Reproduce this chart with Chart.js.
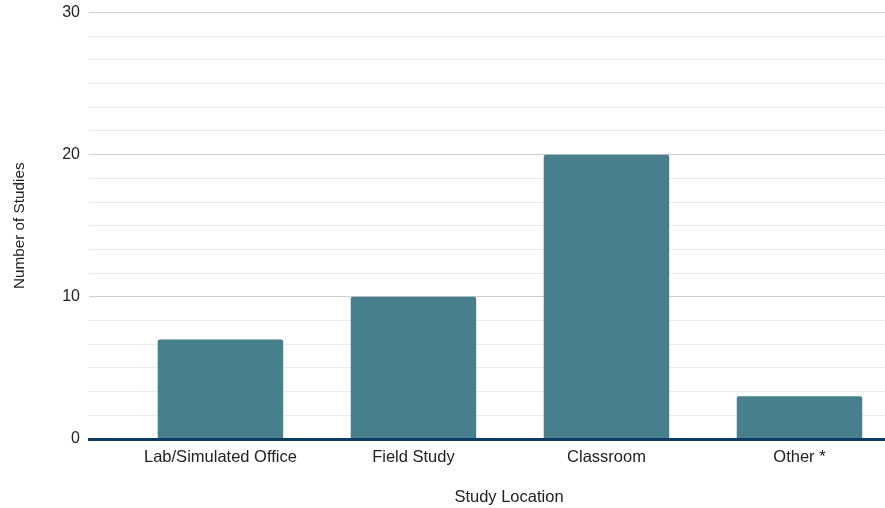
<!DOCTYPE html>
<html>
<head>
<meta charset="utf-8">
<title>Study Location</title>
<script src="https://cdn.jsdelivr.net/npm/chart.js@4.4.1/dist/chart.umd.min.js"></script>
<style>
  html, body { margin: 0; padding: 0; background: #ffffff; overflow: hidden; }
  #wrap { position: relative; width: 929px; height: 508px; }
</style>
</head>
<body>
<div id="wrap"><canvas id="chart"></canvas></div>
<script>
// Number of studies per study location
const categories = ['Lab/Simulated Office', 'Field Study', 'Classroom', 'Other *'];
const studyCounts = [7, 10, 20, 3];
// Labelled y ticks; five minor gridlines sit between each pair
const yTickLabels = [0, 10, 20, 30];
const minorPerMajor = 6;

const barColor = '#477f8c';
const baseColor = '#0b3a63';
const textColor = '#222222';
const fontFamily = '"Liberation Sans", Arial, Helvetica, sans-serif';

const yMax = yTickLabels[yTickLabels.length - 1];
const majorStep = yTickLabels[1] - yTickLabels[0];

const points = categories.map((c, i) => ({ x: i, y: studyCounts[i] }));

new Chart(document.getElementById('chart'), {
  type: 'bar',
  data: {
    datasets: [{
      data: points,
      backgroundColor: barColor,
      borderWidth: 0,
      borderRadius: { topLeft: 2, topRight: 2, bottomLeft: 0, bottomRight: 0 },
      borderSkipped: 'bottom',
      categoryPercentage: 1,
      barPercentage: 0.65
    }]
  },
  options: {
    responsive: true,
    maintainAspectRatio: false,
    animation: false,
    layout: { padding: { top: 12.5, right: 0, bottom: 0, left: 0 } },
    plugins: { legend: { display: false }, tooltip: { enabled: false } },
    scales: {
      x: {
        type: 'linear',
        offset: false,
        min: -0.681,
        max: 3.671,
        afterFit: s => { s.height = 69; },
        afterBuildTicks: s => { s.ticks = categories.map((c, i) => ({ value: i })); },
        ticks: {
          autoSkip: false,
          maxRotation: 0,
          padding: 9,
          color: textColor,
          font: { family: fontFamily, size: 16.5 },
          callback: v => categories[v] ?? ''
        },
        grid: { display: false, drawTicks: false },
        border: { display: true, color: baseColor, width: 3, z: 1 },
        title: {
          display: true,
          text: 'Study Location',
          color: textColor,
          font: { family: fontFamily, size: 16.5 },
          padding: { top: 1, bottom: 1 }
        }
      },
      y: {
        min: 0,
        max: yMax,
        afterFit: s => { s.width = 89; s.paddingTop = 0; },
        afterBuildTicks: s => {
          const n = (yMax / majorStep) * minorPerMajor;
          const t = [];
          for (let i = 0; i <= n; i++) t.push({ value: (i * majorStep) / minorPerMajor });
          s.ticks = t;
        },
        ticks: {
          autoSkip: false,
          padding: 9,
          color: textColor,
          font: { family: fontFamily, size: 16 },
          callback: v => (yTickLabels.includes(v) ? String(v) : '')
        },
        grid: {
          drawTicks: false,
          lineWidth: 1,
          color: ctx => (yTickLabels.includes(ctx.tick && ctx.tick.value) ? '#cfcfcf' : '#ebebeb')
        },
        border: { display: false },
        title: {
          display: true,
          text: 'Number of Studies',
          color: textColor,
          font: { family: fontFamily, size: 15.3 },
          padding: { top: 11, bottom: 0 }
        }
      }
    }
  }
});
</script>
</body>
</html>
